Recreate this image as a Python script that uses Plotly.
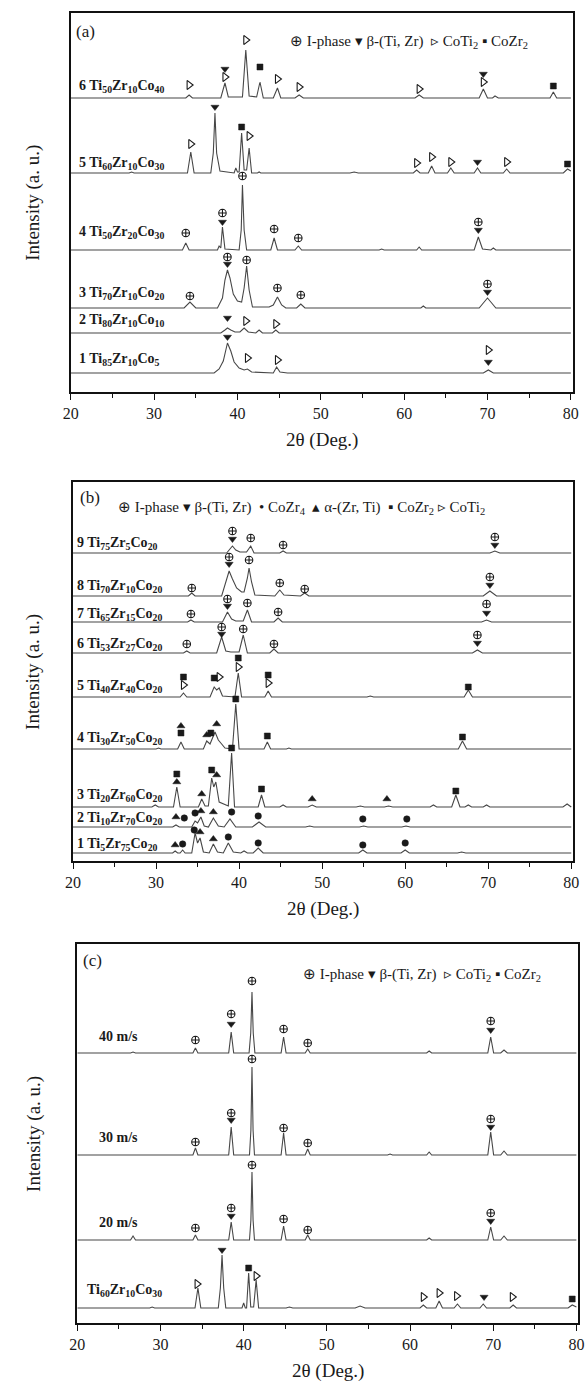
import plotly.graph_objects as go

# ---------------- data: XRD profiles (2theta, intensity above own baseline, px units) -------------
A6 = [(20,0),(33.8,0),(34.2,3),(34.6,0),(38.0,0),(38.5,15),(38.9,1),(40.6,1),(41.0,48),(41.4,2),(42.3,1),(42.7,16),(43.1,0),(44.3,0),(44.8,10),(45.2,0),(46.9,0),(47.4,3),(47.9,0),(61.3,0),(61.8,3),(62.3,0),(69.0,0),(69.5,9),(70.0,0),(70.6,0),(70.9,2),(71.3,0),(77.5,0),(77.9,6),(78.3,0),(80,0)]
A5 = [(20,0),(27,0),(27.3,1),(27.6,0),(34.0,0),(34.4,21),(34.8,0),(36.8,0),(37.1,20),(37.3,60),(37.5,20),(37.9,2),(39.6,0),(39.8,5),(40.0,1),(40.2,1),(40.5,40),(40.8,3),(41.1,3),(41.4,25),(41.7,0),(42.4,0),(42.6,1),(42.8,0),(53.5,0),(54,1),(54.5,0),(61.1,0),(61.5,3),(61.9,0),(62.9,0),(63.3,7),(63.7,0),(65.2,0),(65.6,5),(66.0,0),(68.4,0),(68.8,5),(69.2,0),(71.9,0),(72.3,4),(72.7,0),(79.1,0),(79.6,4),(80,2)]
A4 = [(20,0),(33.4,0),(33.8,7),(34.2,0),(37.6,0),(37.8,4),(38.0,2),(38.2,23),(38.5,1),(40.2,0),(40.45,20),(40.6,65),(40.8,20),(41.1,0),(44.0,0),(44.4,12),(44.8,0),(46.9,0),(47.3,4),(47.7,0),(57.0,0),(57.3,1),(57.6,0),(61.5,0),(61.8,3),(62.1,0),(68.4,0),(68.9,13),(69.4,1),(70.4,0),(70.7,2),(71.0,0),(80,0)]
A3 = [(20,0),(33.6,0),(34.3,6),(35.0,0),(37.6,0),(38.2,10),(38.5,28),(38.8,38),(39.1,30),(39.5,14),(40.0,7),(40.5,6),(40.8,20),(41.1,42),(41.4,18),(41.8,1),(43.8,1),(44.0,2),(44.3,3),(44.8,11),(45.3,3),(45.8,0),(47.1,0),(47.6,4),(48.1,0),(62.0,0),(62.3,2),(62.6,0),(69.0,0),(69.6,6),(70.0,10),(70.4,6),(71.0,0),(80,0)]
A2 = [(20,0),(38.0,0),(38.5,3),(38.8,5),(39.2,3),(39.7,1),(40.3,1),(40.8,5),(41.3,1),(42.2,0),(42.6,3),(43.0,0),(44.2,0),(44.6,3),(45.0,0),(80,0)]
A1 = [(20,0),(37.2,0),(37.8,4),(38.3,12),(38.8,30),(39.2,22),(39.6,11),(40.2,5),(40.8,3),(41.2,4),(41.7,1),(44.3,0),(44.7,6),(45.1,1),(46,0),(69.5,0),(70.1,3),(70.7,0),(80,0)]

B9 = [(20,0),(38.5,0),(38.9,4),(39.2,7),(39.6,3),(40.1,1),(40.9,1),(41.4,7),(41.8,0),(44.9,0),(45.3,2),(45.7,0),(70.2,0),(70.8,2),(71.4,0),(80,0)]
B8 = [(20,0),(33.9,0),(34.3,3),(34.7,0),(37.9,0),(38.4,13),(38.8,25),(39.2,17),(39.7,8),(40.3,4),(40.6,4),(41.0,18),(41.2,28),(41.5,14),(41.9,1),(44.3,0),(44.9,6),(45.4,1),(47.4,0),(47.9,3),(48.4,0),(69.4,0),(70.2,5),(71.0,0),(80,0)]
B7 = [(20,0),(33.8,0),(34.2,2),(34.6,0),(38.0,0),(38.6,10),(39.1,3),(39.6,1),(40.5,1),(41.0,12),(41.5,0),(44.2,0),(44.7,4),(45.2,0),(69.2,0),(69.8,2),(70.4,0),(80,0)]
B6 = [(20,0),(33.3,0),(33.7,2),(34.1,0),(37.3,0),(37.9,16),(38.4,2),(39.0,1),(40.0,1),(40.5,18),(41.0,0),(43.7,0),(44.2,4),(44.7,0),(68.1,0),(68.7,3),(69.3,0),(80,0)]
B5 = [(20,0),(32.9,0),(33.3,4),(33.7,0),(36.5,0),(37.0,10),(37.3,7),(37.6,9),(38.0,1),(39.5,0),(39.9,24),(40.3,0),(43.1,0),(43.5,6),(43.9,0),(55.4,0),(55.8,1),(56.2,0),(67.1,0),(67.6,7),(68.1,0),(80,0)]
B4 = [(20,0),(30.0,0),(30.3,1),(30.6,0),(32.6,0),(33.0,7),(33.4,0),(35.7,0),(36.1,8),(36.5,5),(37.1,17),(37.5,9),(37.8,6),(38.3,1),(39.2,0),(39.6,45),(40.0,0),(43.0,0),(43.4,7),(43.8,0),(45.7,0),(46,1),(46.3,0),(66.4,0),(66.9,8),(67.4,0),(80,0)]
B3 = [(20,0),(29.5,0),(29.9,2),(30.3,0),(32.1,0),(32.5,20),(32.9,0),(35.1,0),(35.5,8),(35.9,1),(36.3,1),(36.7,29),(36.95,20),(37.2,25),(37.6,5),(38.7,1),(39.1,54),(39.45,0),(42.3,0),(42.7,12),(43.1,0),(44.9,0),(45.3,2),(45.7,0),(48.3,0),(48.8,2),(49.3,0),(54.1,0),(54.6,1),(55.1,0),(57.5,0),(58,1),(58.5,0),(63.0,0),(63.4,2),(63.8,0),(65.6,0),(66.1,12),(66.6,0),(67.2,0),(67.6,2),(68.0,0),(69.4,0),(69.8,2),(70.2,0),(79.0,0),(79.5,3),(80,0)]
B2 = [(20,0),(32.0,0),(32.4,2),(32.8,0),(34.3,0),(34.7,6),(35.0,4),(35.4,10),(35.8,1),(36.3,0),(36.9,9),(37.5,1),(38.2,0),(38.9,8),(39.6,0),(41.6,0),(42.4,5),(43.2,0),(48.0,0),(48.5,1),(49.0,0),(54.5,0),(55.0,1),(55.5,0),(59.6,0),(60.1,1),(60.6,0),(80,0)]
B1 = [(20,0),(32.0,0),(32.3,2),(32.6,0),(32.9,0),(33.2,3),(33.5,0),(34.3,0),(34.7,20),(35.0,10),(35.3,15),(35.7,1),(36.4,0),(36.9,9),(37.4,1),(38.1,0),(38.7,10),(39.3,1),(40.2,0),(40.6,2),(41.0,0),(41.7,0),(42.3,5),(42.9,0),(54.4,0),(54.9,3),(55.4,0),(59.5,0),(60.0,3),(60.5,0),(66.3,0),(66.8,1),(67.3,0),(80,0)]

C40 = [(20,0),(26.4,0),(26.7,1),(27.0,0),(33.9,0),(34.2,5),(34.5,0),(38.2,0),(38.5,21),(38.8,0),(40.65,0),(40.85,20),(41.0,61),(41.15,20),(41.35,0),(44.5,0),(44.8,16),(45.1,0),(47.4,0),(47.7,4),(48.0,0),(62.0,0),(62.3,2),(62.6,0),(69.35,0),(69.7,16),(70.05,0),(70.9,0),(71.3,3),(71.7,0),(80,0)]
C30 = [(20,0),(33.9,0),(34.2,7),(34.5,0),(38.2,0),(38.5,28),(38.8,0),(40.7,0),(40.87,25),(41.0,88),(41.13,25),(41.3,0),(44.5,0),(44.8,22),(45.1,0),(47.4,0),(47.7,6),(48.0,0),(57.3,0),(57.6,1),(57.9,0),(62.0,0),(62.3,3),(62.6,0),(69.35,0),(69.7,23),(70.05,0),(70.9,0),(71.3,4),(71.7,0),(80,0)]
C20 = [(20,0),(26.4,0),(26.7,4),(27.0,0),(33.9,0),(34.2,5),(34.5,0),(38.2,0),(38.5,18),(38.8,0),(40.7,0),(40.87,20),(41.0,68),(41.13,20),(41.3,0),(44.5,0),(44.8,14),(45.1,0),(47.4,0),(47.7,5),(48.0,0),(62.0,0),(62.3,2),(62.6,0),(69.35,0),(69.7,13),(70.05,0),(70.9,0),(71.3,4),(71.7,0),(80,0)]
CTI = [(20,0),(28.7,0),(29.0,1),(29.3,0),(34.15,0),(34.5,20),(34.85,0),(36.95,0),(37.2,20),(37.4,53),(37.6,20),(37.85,0),(39.8,0),(40.0,5),(40.2,0),(40.35,0),(40.6,35),(40.85,1),(41.2,1),(41.5,28),(41.8,0),(45.1,0),(45.5,1),(45.9,0),(53.4,0),(54.0,2),(54.6,0),(61.2,0),(61.6,3),(62.0,0),(63.1,0),(63.5,7),(63.9,0),(65.3,0),(65.7,4),(66.1,0),(68.4,0),(68.8,4),(69.2,0),(72.0,0),(72.4,3),(72.8,0),(79.0,0),(79.5,3),(80,1)]

# ---------------- phase markers: (phase, 2theta, height above trace baseline) ----------------
# I = I-phase, B = beta-(Ti,Zr), T = CoTi2, S = CoZr2, C = CoZr4, A = alpha-(Zr,Ti)
MA6 = [("T",34.2,13),("B",38.5,29),("T",38.5,21),("T",41.0,58),("S",42.7,31),("T",44.8,19),("T",47.4,11),("T",61.8,9),("B",69.5,24),("T",69.5,16),("S",77.9,12)]
MA5 = [("T",34.4,29),("B",37.3,66),("S",40.5,46),("T",41.4,37),("T",61.5,10),("T",63.3,16),("T",65.6,11),("B",68.8,11),("T",72.3,11),("S",79.6,9)]
MA4 = [("I",33.8,17),("I",38.2,37),("B",38.2,28),("I",40.6,74),("I",44.4,21),("I",47.3,12),("I",68.9,28),("B",68.9,20)]
MA3 = [("I",34.3,12),("I",38.8,51),("B",38.8,44),("I",41.1,48),("I",44.8,20),("I",47.6,13),("I",70.0,24),("B",70.0,16)]
MA2 = [("B",38.8,15),("T",41.0,12),("T",44.6,9)]
MA1 = [("B",38.8,36),("T",41.2,15),("T",44.8,13),("T",70.1,23),("B",70.1,11)]

MB9 = [("I",39.2,22),("B",39.2,14),("I",41.4,15),("I",45.3,8),("I",70.8,16),("B",70.8,8)]
MB8 = [("I",34.3,8),("I",38.8,39),("B",38.8,32),("I",41.2,36),("I",44.9,13),("I",47.9,7),("I",70.2,19),("B",70.2,11)]
MB7 = [("I",34.2,8),("I",38.6,23),("B",38.6,16),("I",41.0,19),("I",44.7,10),("I",69.8,18),("B",69.8,9)]
MB6 = [("I",33.7,9),("I",37.9,26),("B",37.9,19),("I",40.5,24),("I",44.2,9),("I",68.7,18),("B",68.7,10)]
MB5 = [("S",33.3,20),("T",33.3,12),("S",37.0,19),("T",37.6,20),("S",39.9,39),("T",39.9,30),("S",43.5,22),("T",43.5,14),("S",67.6,10)]
MB4 = [("A",33.0,23),("S",33.0,16),("A",36.1,14),("S",36.6,16),("A",37.3,25),("S",39.6,50),("S",43.4,13),("S",66.9,12)]
MB3 = [("S",32.5,33),("A",32.5,25),("A",35.5,13),("S",36.7,37),("A",37.3,32),("S",39.1,59),("S",42.7,18),("A",48.8,8),("A",57.8,8),("S",66.1,16)]
MB2 = [("A",32.4,10),("C",33.4,9),("C",34.7,14),("A",35.4,16),("A",36.9,15),("C",39.1,15),("C",42.3,11),("C",54.9,8),("C",60.2,8)]
MB1 = [("A",32.3,8),("C",33.2,9),("C",34.6,23),("A",35.3,21),("A",36.9,14),("C",38.7,16),("C",42.3,10),("C",54.9,8),("C",60.0,10)]

MC40 = [("I",34.2,13),("I",38.5,39),("B",38.5,29),("I",41.0,72),("I",44.8,24),("I",47.7,10),("I",69.7,32),("B",69.7,23)]
MC30 = [("I",34.2,13),("I",38.5,42),("B",38.5,35),("I",41.0,96),("I",44.8,27),("I",47.7,12),("I",69.7,36),("B",69.7,28)]
MC20 = [("I",34.2,12),("I",38.5,32),("B",38.5,24),("I",41.0,75),("I",44.8,21),("I",47.7,10),("I",69.7,27),("B",69.7,19)]
MCTI = [("T",34.4,24),("B",37.4,58),("S",40.6,40),("T",41.5,32),("T",61.6,11),("T",63.5,15),("T",65.6,12),("B",68.9,11),("T",72.3,11),("S",79.5,9)]

# trace names
NAMES_A = ["6 Ti<sub>50</sub>Zr<sub>10</sub>Co<sub>40</sub>", "5 Ti<sub>60</sub>Zr<sub>10</sub>Co<sub>30</sub>",
           "4 Ti<sub>50</sub>Zr<sub>20</sub>Co<sub>30</sub>", "3 Ti<sub>70</sub>Zr<sub>10</sub>Co<sub>20</sub>",
           "2 Ti<sub>80</sub>Zr<sub>10</sub>Co<sub>10</sub>", "1 Ti<sub>85</sub>Zr<sub>10</sub>Co<sub>5</sub>"]
NAMES_B = ["9 Ti<sub>75</sub>Zr<sub>5</sub>Co<sub>20</sub>", "8 Ti<sub>70</sub>Zr<sub>10</sub>Co<sub>20</sub>",
           "7 Ti<sub>65</sub>Zr<sub>15</sub>Co<sub>20</sub>", "6 Ti<sub>53</sub>Zr<sub>27</sub>Co<sub>20</sub>",
           "5 Ti<sub>40</sub>Zr<sub>40</sub>Co<sub>20</sub>", "4 Ti<sub>30</sub>Zr<sub>50</sub>Co<sub>20</sub>",
           "3 Ti<sub>20</sub>Zr<sub>60</sub>Co<sub>20</sub>", "2 Ti<sub>10</sub>Zr<sub>70</sub>Co<sub>20</sub>",
           "1 Ti<sub>5</sub>Zr<sub>75</sub>Co<sub>20</sub>"]
NAMES_C = ["40 m/s", "30 m/s", "20 m/s", "Ti<sub>60</sub>Zr<sub>10</sub>Co<sub>30</sub>"]

# ---------------- layout constants (pixels of the 586x1390 page) ----------------
W, H = 586, 1390
SERIF = "Liberation Serif, Times New Roman, serif"
INK = "#1a1a1a"
LINE = "#474747"

panels = [
    dict(key="", x0=64.3, x1=578.5, xmax=80.22, top=12.7, bot=392,
         profiles=[A6, A5, A4, A3, A2, A1], marks=[MA6, MA5, MA4, MA3, MA2, MA1],
         base=[294, 219, 142, 84, 59, 19], names=NAMES_A,
         label_y=[87, 163, 233, 293, 321, 359], label_x=[71]*6, tag="(a)", tag_xy=(68, 31),
         legend="⊕ I-phase ▾ β-(Ti, Zr)  ▹ CoTi<sub>2</sub> ▪ CoZr<sub>2</sub>", leg_xy=(287, 42)),
    dict(key="2", x0=66.6, x1=579, xmax=80.23, top=482, bot=861,
         profiles=[B9, B8, B7, B6, B5, B4, B3, B2, B1], marks=[MB9, MB8, MB7, MB6, MB5, MB4, MB3, MB2, MB1],
         base=[308, 265, 239, 208, 164, 112, 54, 34, 8], names=NAMES_B,
         label_y=[543, 587, 614, 644, 687, 738, 795, 818, 844], label_x=[69]*9, tag="(b)", tag_xy=(72, 497),
         legend="⊕ I-phase ▾ β-(Ti, Zr)  • CoZr<sub>4</sub>  ▴ α-(Zr, Ti)  ▪ CoZr<sub>2</sub> ▹ CoTi<sub>2</sub>",
         leg_xy=(111, 508)),
    dict(key="3", x0=71, x1=584, xmax=80.2, top=944, bot=1323,
         profiles=[C40, C30, C20, CTI], marks=[MC40, MC30, MC20, MCTI],
         base=[270, 168, 83, 15], names=NAMES_C,
         label_y=[1036, 1137, 1222, 1290], label_x=[91.5, 91.5, 91.5, 78.5], tag="(c)", tag_xy=(75, 960),
         legend="⊕ I-phase ▾ β-(Ti, Zr)  ▹ CoTi<sub>2</sub> ▪ CoZr<sub>2</sub>", leg_xy=(300, 975)),
]

SYM = {"I": ("circle-cross-open", 7.5, 1.1), "B": ("triangle-down", 7, 0.5), "T": ("triangle-right-open", 8, 1.1),
       "S": ("square", 6, 0.5), "C": ("circle", 6.5, 0.5), "A": ("triangle-up", 7, 0.5)}

fig = go.Figure()
annotations = []
layout_axes = {}

for p in panels:
    k = p["key"]
    xa, ya = "x" + k, "y" + k
    span = p["bot"] - p["top"]
    for prof, b in zip(p["profiles"], p["base"]):
        xs = [pt[0] for pt in prof]
        ys = [pt[1] + b for pt in prof]
        fig.add_trace(go.Scatter(x=xs, y=ys, mode="lines", xaxis=xa, yaxis=ya,
                                 line=dict(color=LINE, width=1.1), showlegend=False, hoverinfo="skip"))
    for ph, (sym, size, lw) in SYM.items():
        mx, my = [], []
        for marks, b in zip(p["marks"], p["base"]):
            for m in marks:
                if m[0] == ph:
                    mx.append(m[1])
                    my.append(m[2] + b)
        if mx:
            fig.add_trace(go.Scatter(x=mx, y=my, mode="markers", xaxis=xa, yaxis=ya, showlegend=False,
                                     hoverinfo="skip",
                                     marker=dict(symbol=sym, size=size, color=INK,
                                                 line=dict(color=INK, width=lw))))
    ax = dict(domain=[p["x0"] / W, p["x1"] / W], range=[20, p["xmax"]], anchor=ya,
              showline=True, linecolor="#111", linewidth=1.5, mirror=True,
              ticks="outside", ticklen=6, tickwidth=1.3, tickcolor="#111", dtick=10, tick0=20,
              minor=dict(dtick=5, tick0=20, ticks="outside", ticklen=4, tickwidth=1.2, tickcolor="#111"),
              showgrid=False, zeroline=False, ticklabeloverflow="allow",
              tickfont=dict(family=SERIF, size=16, color=INK))
    ay = dict(domain=[1 - p["bot"] / H, 1 - p["top"] / H], range=[0, span], anchor=xa,
              showline=True, linecolor="#111", linewidth=1.5, mirror=True,
              showticklabels=False, ticks="", showgrid=False, zeroline=False)
    layout_axes["xaxis" + k] = ax
    layout_axes["yaxis" + k] = ay

    # texts
    for name, lx, ly in zip(p["names"], p["label_x"], p["label_y"]):
        annotations.append(dict(text="<b>" + name + "</b>", x=lx / W, y=1 - ly / H, xref="paper", yref="paper",
                                xanchor="left", yanchor="middle", showarrow=False,
                                font=dict(family=SERIF, size=14, color=INK)))
    annotations.append(dict(text=p["tag"], x=p["tag_xy"][0] / W, y=1 - p["tag_xy"][1] / H, xref="paper",
                            yref="paper", xanchor="left", yanchor="middle", showarrow=False,
                            font=dict(family=SERIF, size=17, color=INK)))
    annotations.append(dict(text=p["legend"], x=p["leg_xy"][0] / W, y=1 - p["leg_xy"][1] / H, xref="paper",
                            yref="paper", xanchor="left", yanchor="middle", showarrow=False,
                            font=dict(family=SERIF, size=15, color=INK)))
    annotations.append(dict(text="2θ (Deg.)", x=(p["x0"] + p["x1"]) / 2 / W, y=1 - (p["bot"] + 48) / H,
                            xref="paper", yref="paper", xanchor="center", yanchor="middle", showarrow=False,
                            font=dict(family=SERIF, size=19, color=INK)))
    annotations.append(dict(text="Intensity (a. u.)", x=26 / W, y=1 - (p["top"] + p["bot"]) / 2 / H,
                            xref="paper", yref="paper", xanchor="center", yanchor="middle", showarrow=False,
                            textangle=-90, font=dict(family=SERIF, size=19, color=INK)))

fig.update_layout(width=W, height=H, margin=dict(l=0, r=0, t=0, b=0),
                  paper_bgcolor="white", plot_bgcolor="white", showlegend=False,
                  annotations=annotations, **layout_axes)

fig.write_html("out.html", config={"displayModeBar": False},
               post_script="document.body.style.margin='0';document.body.style.overflow='hidden';")
